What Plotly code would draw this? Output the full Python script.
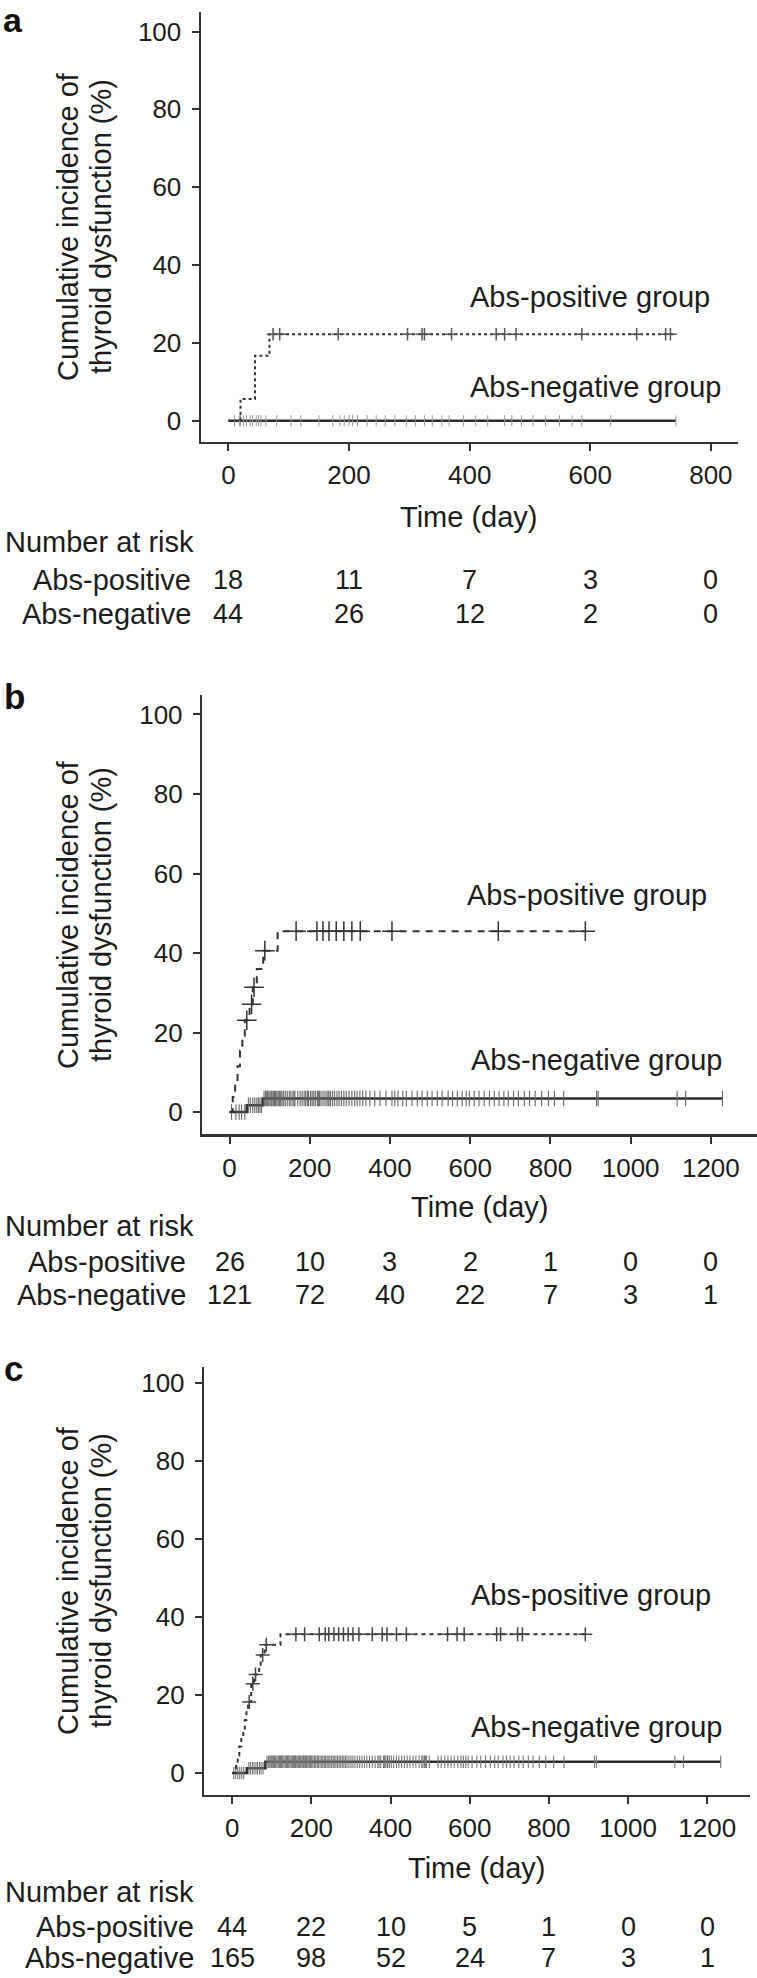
import numpy as np
import plotly.graph_objects as go

W, H = 757, 1978
FONT = "Liberation Sans, Arial, Helvetica, sans-serif"
TXT = "#1c1c1c"
AX = "#333333"

# ---------------- data ----------------
y_ticks = [0, 20, 40, 60, 80, 100]
a_x_ticks = [0, 200, 400, 600, 800]
bc_x_ticks = [0, 200, 400, 600, 800, 1000, 1200]

# Panel a
a_pos_t = [0, 20, 44, 68, 738]
a_pos_y = [0, 5.6, 16.7, 22.2, 22.2]
a_pos_cens = [74, 85, 182, 297, 321, 325, 370, 444, 458, 477, 586, 677, 725, 733]
a_neg_t = [0, 742]
a_neg_y = [0, 0]
a_neg_cens = [10, 18, 20, 25, 30, 36, 40, 46, 50, 54, 62, 80, 104, 120, 150, 173, 185, 192,
              200, 206, 214, 230, 245, 260, 276, 295, 310, 325, 338, 354, 366, 390,
              410, 430, 458, 470, 486, 505, 526, 549, 570, 586,
              634, 742]
a_risk_pos = [18, 11, 7, 3, 0]
a_risk_neg = [44, 26, 12, 2, 0]

# Panel b
b_pos_t = [0, 8, 14, 20, 26, 32, 38, 50, 58, 68, 84, 120, 887]
b_pos_y = [0, 3.8, 7.7, 11.5, 15.4, 19.2, 23.1, 27.1, 31.4, 36.0, 40.6, 45.5, 45.5]
b_pos_cens = [43, 55, 61, 88, 166, 218, 233, 248, 266, 285, 305, 326, 405, 670, 887]
b_neg_t = [0, 43, 84, 1229]
b_neg_y = [0, 1.7, 3.4, 3.4]
b_neg_cens = [5, 16, 24, 30, 38,
              47, 52, 58, 63, 68, 72, 76, 80,
              86, 90, 93, 95, 98, 101, 104, 106, 109, 112,
              115, 118, 121, 124, 126, 128, 131, 135, 139, 144,
              149, 153, 158, 161, 163, 170, 176, 181, 186, 190,
              194, 197,
              202, 206, 210, 214, 219, 224, 228, 233, 238, 243,
              248, 252, 257, 262, 268, 273, 279, 285, 291, 298,
              305, 312, 318, 325, 332, 340, 350, 362, 375, 390,
              222, 246,
              405, 412, 420, 432, 441, 455, 468, 480, 493, 505, 518, 530, 545, 556, 568, 580, 590, 598,
              610, 622, 635, 648, 660, 672, 684, 695, 708, 720, 735, 748, 762, 778, 795,
              810, 833, 915, 919,
              1116, 1137,
              1229]
b_risk_pos = [26, 10, 3, 2, 1, 0, 0]
b_risk_neg = [121, 72, 40, 22, 7, 3, 1]

# Panel c
c_pos_t = [0, 10, 14, 18, 23, 28, 32, 36, 40, 48, 55, 68, 72, 82, 122, 892]
c_pos_y = [0, 2.3, 4.5, 6.8, 9.1, 11.4, 13.6, 15.9, 18.2, 22.9, 25.3, 27.8, 30.3, 32.9, 35.6, 35.6]
c_pos_cens = [43, 52, 59, 77, 86, 161, 183, 220, 235, 244, 257, 269, 281, 293, 305, 320,
              354, 379, 391, 415, 440, 544, 568, 586, 668, 678, 721, 733, 892]
c_neg_t = [0, 37, 84, 1234]
c_neg_y = [0, 1.2, 2.9, 2.9]
c_neg_cens = [4, 9, 14, 19, 24, 29,
              42, 46, 51, 55, 60, 64, 69, 73, 78,
              88, 92, 95, 98, 101, 104, 107, 110, 113, 116,
              119, 122, 125, 128, 131, 134, 137, 140, 143, 146,
              149, 152, 155, 158, 161, 164, 167, 170, 173, 176,
              179, 182, 185, 188, 191, 194, 197, 199, 100, 120,
              141, 160, 180, 196, 126, 156, 186,
              201, 204, 208, 211, 215, 218, 222, 226, 229, 233,
              236, 240, 244, 247, 251, 255, 258, 262, 266, 270,
              274, 278, 282, 286, 290, 295, 300, 305, 310, 316,
              322, 328, 334, 340, 347, 354, 361, 368, 375, 382,
              388, 393, 397, 385, 371, 392,
              402, 408, 415, 421, 428, 435, 442, 449, 457, 464,
              472, 479, 486, 491, 498, 520, 528, 537, 545, 553,
              561, 570, 578, 584, 590, 596, 482, 488,
              606, 618, 628, 640, 652, 663, 672, 684, 693, 702, 712, 724, 735, 748, 760, 776, 792,
              812, 838, 915, 920,
              1118, 1140,
              1234]
c_risk_pos = [44, 22, 10, 5, 1, 0, 0]
c_risk_neg = [165, 98, 52, 24, 7, 3, 1]

# ---------------- layout geometry (pixels) ----------------
panels = [
    dict(key="", letter="a", x0=200.7, x1=738, y0=11.7, y1=441.7, xr=[-46, 845], yr=[-5.4, 105.1],
         xt=a_x_ticks, pos=(a_pos_t, a_pos_y, a_pos_cens), neg=(a_neg_t, a_neg_y, a_neg_cens),
         risk=(a_risk_pos, a_risk_neg), pos_dash="dot",
         pm=dict(size=9, w=1.5, c="#555555"), nm=dict(size=8, w=1.0, c="#9a9a9a"),
         letter_y=14, ytitle_y=227, pos_lab=(468, 297), neg_lab=(468, 387),
         time_y=517, nar_y=542, rp_y=580, rn_y=614, row_right=193),
    dict(key="2", letter="b", x0=202, x1=757, y0=695, y1=1134.3, xr=[-68.6, 1315], yr=[-5.6, 104.9],
         xt=bc_x_ticks, pos=(b_pos_t, b_pos_y, b_pos_cens), neg=(b_neg_t, b_neg_y, b_neg_cens),
         risk=(b_risk_pos, b_risk_neg), pos_dash="7px,6px",
         pm=dict(size=14, w=1.5, c="#333333"), nm=dict(size=11, w=1.1, c="#666666"),
         letter_y=696, ytitle_y=915, pos_lab=(465, 895), neg_lab=(469, 1060),
         time_y=1207, nar_y=1226, rp_y=1262, rn_y=1295, row_right=188),
    dict(key="3", letter="c", x0=204, x1=750, y0=1367, y1=1795, xr=[-71.2, 1308], yr=[-5.65, 104.2],
         xt=bc_x_ticks, pos=(c_pos_t, c_pos_y, c_pos_cens), neg=(c_neg_t, c_neg_y, c_neg_cens),
         risk=(c_risk_pos, c_risk_neg), pos_dash="4px,4px",
         pm=dict(size=10, w=1.5, c="#444444"), nm=dict(size=9, w=1.1, c="#777777"),
         letter_y=1368, ytitle_y=1581, pos_lab=(469, 1595), neg_lab=(469, 1727),
         time_y=1868, nar_y=1892, rp_y=1927, rn_y=1958, row_right=196),
]


def px(x):
    return x / W


def py(y):
    return 1 - y / H


def step_at(t, y, c):
    t = np.asarray(t, float)
    y = np.asarray(y, float)
    idx = np.searchsorted(t, np.asarray(c, float), side="right") - 1
    return y[np.clip(idx, 0, len(y) - 1)]


fig = go.Figure()
annotations = []
layout = {}

for p in panels:
    k = p["key"]
    xa, ya = "x" + k, "y" + k
    layout["xaxis" + k] = dict(
        domain=[px(p["x0"]), px(p["x1"])], range=p["xr"], anchor=ya,
        showline=True, linecolor=AX, linewidth=2.2, ticks="outside", ticklen=7, tickwidth=2,
        tickcolor=AX, tickvals=p["xt"], showgrid=False, zeroline=False,
        tickfont=dict(family=FONT, size=26, color=TXT), ticklabelstandoff=2, fixedrange=True)
    layout["yaxis" + k] = dict(
        domain=[py(p["y1"]), py(p["y0"])], range=p["yr"], anchor=xa,
        showline=True, linecolor=AX, linewidth=2.2, ticks="outside", ticklen=7, tickwidth=2,
        tickcolor=AX, tickvals=y_ticks, showgrid=False, zeroline=False,
        tickfont=dict(family=FONT, size=26, color=TXT), ticklabelstandoff=5, fixedrange=True)

    nt, ny, nc = p["neg"]
    pt, pyv, pc = p["pos"]
    # negative group: solid step line
    fig.add_trace(go.Scatter(x=nt, y=ny, mode="lines", line=dict(color="#2e2e2e", width=2.6, shape="hv"),
                             xaxis=xa, yaxis=ya, showlegend=False, hoverinfo="skip"))
    fig.add_trace(go.Scatter(x=nc, y=step_at(nt, ny, nc), mode="markers",
                             marker=dict(symbol="line-ns", size=p["nm"]["size"],
                                         line=dict(width=p["nm"]["w"], color=p["nm"]["c"])),
                             xaxis=xa, yaxis=ya, showlegend=False, hoverinfo="skip"))
    # positive group: dashed / dotted step line
    fig.add_trace(go.Scatter(x=pt, y=pyv, mode="lines",
                             line=dict(color="#333333", width=2.0, shape="hv", dash=p["pos_dash"]),
                             xaxis=xa, yaxis=ya, showlegend=False, hoverinfo="skip"))
    fig.add_trace(go.Scatter(x=pc, y=step_at(pt, pyv, pc), mode="markers",
                             marker=dict(symbol="cross-thin", size=p["pm"]["size"],
                                         line=dict(width=p["pm"]["w"], color=p["pm"]["c"])),
                             xaxis=xa, yaxis=ya, showlegend=False, hoverinfo="skip"))

    # panel letter
    if p["letter"] == "a":
        annotations.append(dict(text="<b>a</b>", x=px(2), y=1, xref="paper", yref="paper",
                                xanchor="left", yanchor="top", showarrow=False, borderpad=0,
                                font=dict(family=FONT, size=34, color="#111111")))
    else:
        annotations.append(dict(text="<b>%s</b>" % p["letter"], x=px(2), y=py(p["letter_y"]),
                                xref="paper", yref="paper", xanchor="left", yanchor="middle",
                                showarrow=False, font=dict(family=FONT, size=35, color="#111111")))
    # y-axis title (two lines)
    for txt, xc in (("Cumulative incidence of", 68), ("thyroid dysfunction (%)", 101)):
        annotations.append(dict(text=txt, x=px(xc), y=py(p["ytitle_y"]), xref="paper", yref="paper",
                                xanchor="center", yanchor="middle", textangle=-90, showarrow=False,
                                font=dict(family=FONT, size=29, color=TXT)))
    # group labels
    for txt, (lx, ly) in (("Abs-positive group", p["pos_lab"]), ("Abs-negative group", p["neg_lab"])):
        annotations.append(dict(text=txt, x=px(lx), y=py(ly), xref="paper", yref="paper",
                                xanchor="left", yanchor="middle", showarrow=False,
                                font=dict(family=FONT, size=29, color=TXT)))
    # x-axis title
    annotations.append(dict(text="Time (day)", x=px((p["x0"] + p["x1"]) / 2), y=py(p["time_y"]),
                            xref="paper", yref="paper", xanchor="center", yanchor="middle",
                            showarrow=False, font=dict(family=FONT, size=29, color=TXT)))
    # risk table
    annotations.append(dict(text="Number at risk", x=px(3), y=py(p["nar_y"]), xref="paper", yref="paper",
                            xanchor="left", yanchor="middle", showarrow=False,
                            font=dict(family=FONT, size=29, color=TXT)))
    for lab, vals, yy in (("Abs-positive", p["risk"][0], p["rp_y"]), ("Abs-negative", p["risk"][1], p["rn_y"])):
        annotations.append(dict(text=lab, x=px(p["row_right"]), y=py(yy), xref="paper", yref="paper",
                                xanchor="right", yanchor="middle", showarrow=False,
                                font=dict(family=FONT, size=29, color=TXT)))
        for tv, v in zip(p["xt"], vals):
            annotations.append(dict(text=str(v), x=tv, y=py(yy), xref=xa, yref="paper",
                                    xanchor="center", yanchor="middle", showarrow=False,
                                    font=dict(family=FONT, size=27, color=TXT)))

fig.update_layout(
    width=W, height=H, autosize=False,
    margin=dict(l=0, r=0, t=0, b=0),
    paper_bgcolor="white", plot_bgcolor="white",
    annotations=annotations, showlegend=False,
    **layout,
)

fig.write_html("out.html",
               config={"displayModeBar": False, "staticPlot": True},
               post_script="document.documentElement.style.margin='0';document.body.style.margin='0';document.body.style.padding='0';")
